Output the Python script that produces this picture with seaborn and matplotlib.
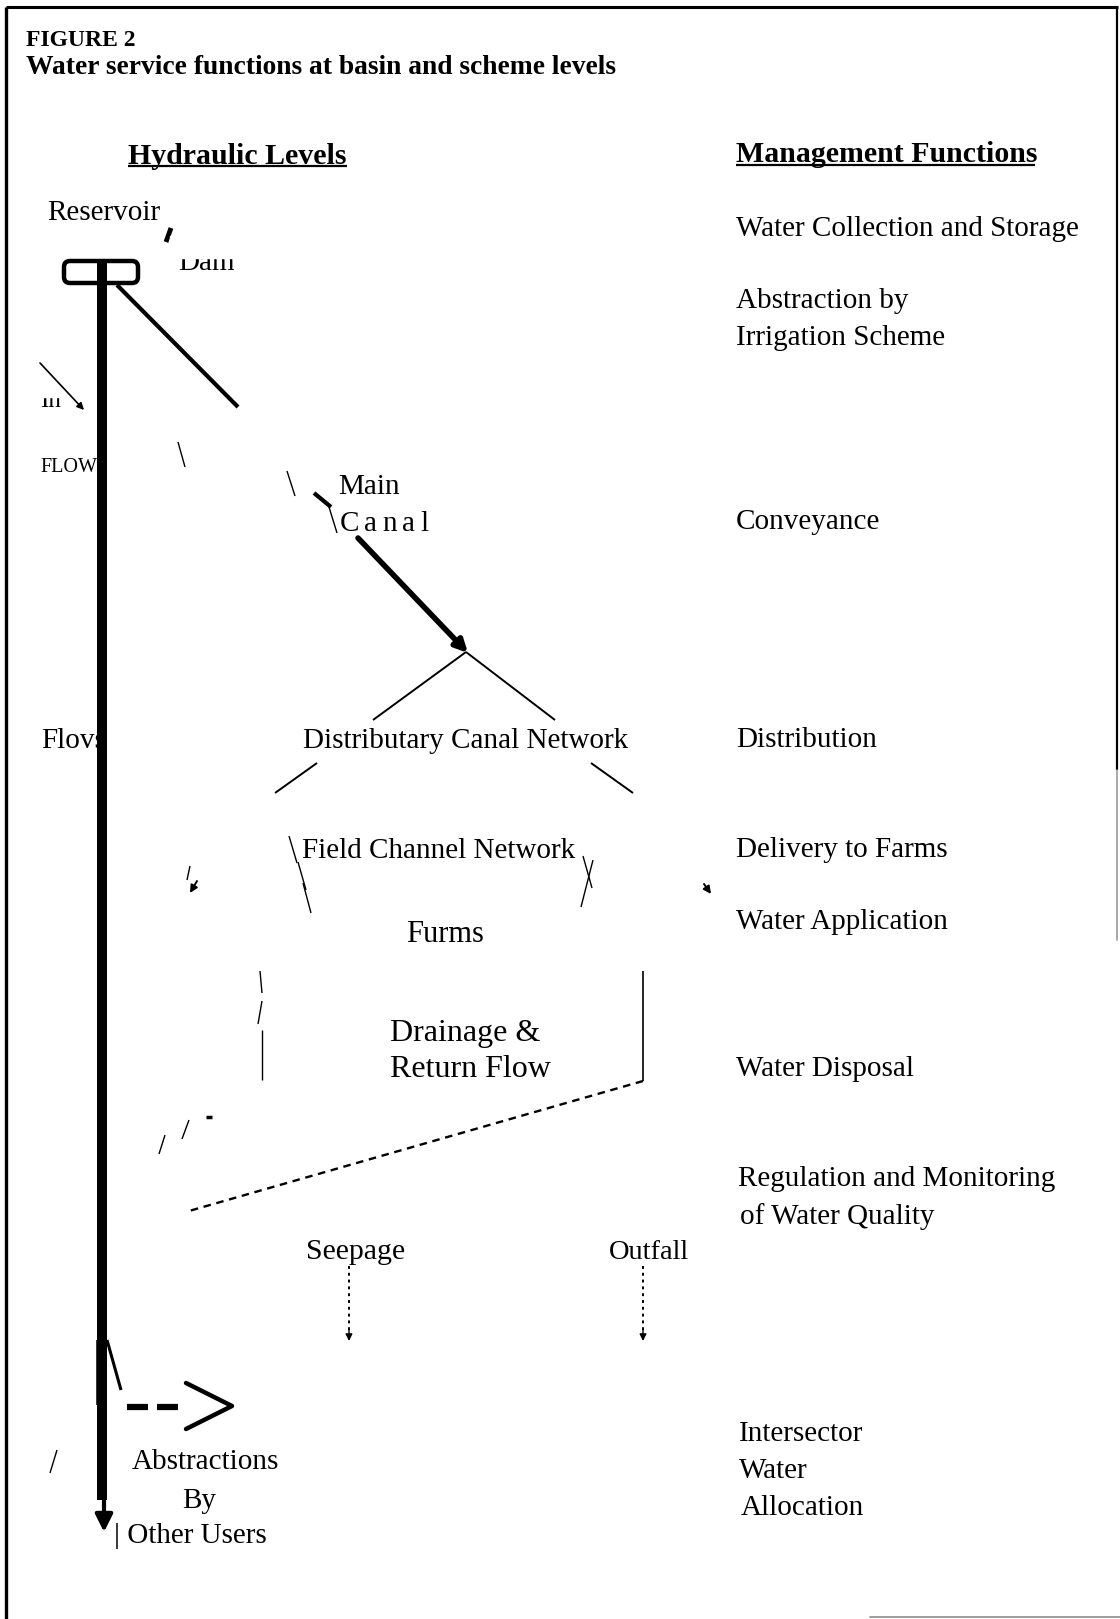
import matplotlib
matplotlib.use("Agg")
import matplotlib.pyplot as plt
import seaborn as sns
from matplotlib.patches import FancyBboxPatch

sns.set_theme(style="white")
plt.rcParams["font.family"] = ["Liberation Serif", "DejaVu Serif"]
plt.rcParams["text.color"] = "black"

W, H = 1120, 1619

# headings
title_lines = ["FIGURE 2", "Water service functions at basin and scheme levels"]
col_headers = ["Hydraulic Levels", "Management Functions"]

# management functions (right column), one entry per line of text
mgmt_labels = ["Water Collection and Storage", "Abstraction by", "Irrigation Scheme",
               "Conveyance", "Distribution", "Delivery to Farms", "Water Application",
               "Water Disposal", "Regulation and Monitoring", "of Water Quality",
               "Intersector", "Water", "Allocation"]
mgmt_x = [736, 736, 736, 736, 736, 736, 736, 736, 738, 740, 739, 739, 741]
mgmt_y = [225, 297, 334, 518, 736, 846, 918, 1065, 1175, 1213, 1430, 1467, 1504]

# hydraulic levels (left part of the scheme)
node_labels = ["Reservoir", "Main", "Distributary Canal Network", "Field Channel Network",
               "Furms", "Drainage &", "Return Flow", "Seepage", "Outfall",
               "Abstractions", "By", "| Other Users", "Flovs"]
node_x = [47, 338, 303, 302, 406, 390, 390, 306, 609, 132, 182, 114, 41]
node_y = [209, 483, 737, 847, 930, 1029, 1065, 1248, 1248, 1458, 1497, 1532, 737]
node_size = [21, 21, 21, 21, 22, 23, 23, 21.5, 20.5, 21, 21, 21, 21]

canal_letters = ["C", "a", "n", "a", "l"]
canal_x = [340, 364, 382, 402, 420]

DY = 4  # text boxes sit a little high with va="center"

fig = plt.figure(figsize=(W / 100, H / 100), dpi=100)
ax = fig.add_axes([0, 0, 1, 1])
ax.set_xlim(0, W)
ax.set_ylim(H, 0)
ax.axis("off")

k = "black"


def seg(x0, y0, x1, y1, lw=1.0, **kw):
    ax.plot([x0, x1], [y0, y1], color=k, lw=lw, solid_capstyle="butt", **kw)


def arrow(x0, y0, x1, y1, lw=1.0, ms=12, **kw):
    ax.annotate("", xy=(x1, y1), xytext=(x0, y0),
                arrowprops=dict(arrowstyle="-|>", color=k, lw=lw, mutation_scale=ms,
                                shrinkA=0, shrinkB=0, **kw))


# frame of the scanned page
seg(6, 7, 1118, 7, lw=2.2)
seg(6, 7, 6, H, lw=2.4)
seg(1117, 7, 1117, 770, lw=1.6)
ax.plot([1117, 1117], [770, 940], color="0.6", lw=1.2)
ax.plot([870, W], [1617, 1617], color="0.55", lw=1.2)

# titles
ax.text(26, 36 + DY, title_lines[0], fontsize=17, fontweight="bold", va="center", ha="left")
ax.text(26, 64 + DY, title_lines[1], fontsize=19.8, fontweight="bold", va="center", ha="left")

# column headers with underline
ax.text(128, 152 + DY, col_headers[0], fontsize=21.5, fontweight="bold", va="center", ha="left")
seg(128, 166, 347, 166, lw=1.6)
ax.text(736, 151 + DY, col_headers[1], fontsize=21.5, fontweight="bold", va="center", ha="left")
seg(736, 165, 1035, 165, lw=1.6)

for lab, x, y in zip(mgmt_labels, mgmt_x, mgmt_y):
    ax.text(x, y + DY, lab, fontsize=21, va="center", ha="left")

for lab, x, y, s in zip(node_labels, node_x, node_y, node_size):
    ax.text(x, y + DY, lab, fontsize=s, va="center", ha="left")

for ch, x in zip(canal_letters, canal_x):
    ax.text(x, 520 + DY, ch, fontsize=21, va="center", ha="left")

# Dam label, top of the letters cut off
ax.text(178, 270, "Dam", fontsize=21, va="baseline", ha="left", zorder=2)
ax.add_patch(plt.Rectangle((170, 236), 80, 22, color="white", zorder=3))
seg(171, 228, 166, 242, lw=3.5)
# "In" label, top cut off as well
ax.text(40, 407, "In", fontsize=18, va="baseline", ha="left", zorder=2)
ax.add_patch(plt.Rectangle((36, 380), 30, 17, color="white", zorder=3))
ax.text(40, 463 + DY, "FLOW", fontsize=14.5, va="center", ha="left")

# dam and the main river line
ax.add_patch(FancyBboxPatch((64, 261), 74, 22, boxstyle="round,pad=0,rounding_size=6",
                            fill=False, ec=k, lw=3.2, zorder=4))
seg(102, 262, 102, 1500, lw=7.2, zorder=4)
arrow(104, 1490, 104, 1532, lw=3, ms=26)
seg(99, 1340, 99, 1405, lw=4)
seg(107, 1340, 121, 1390, lw=2.2)

# inflow arrow
arrow(40, 363, 84, 410, lw=1.2, ms=10)

# abstraction from reservoir and main canal
seg(117, 285, 238, 407, lw=3)
seg(178, 442, 185, 467, lw=1)
seg(287, 471, 295, 496, lw=1)
seg(314, 493, 331, 507, lw=3)
seg(329, 507, 337, 533, lw=1)
arrow(358, 538, 468, 653, lw=4, ms=18)

# distributary branches
seg(466, 652, 373, 720, lw=1.4)
seg(466, 652, 555, 720, lw=1.4)
seg(317, 763, 275, 793, lw=1.4)
seg(591, 763, 633, 793, lw=1.4)

# field channel level
seg(289, 836, 297, 863, lw=1)
seg(298, 862, 306, 890, lw=1)
seg(303, 883, 311, 913, lw=1)
seg(583, 856, 592, 888, lw=1)
seg(593, 860, 581, 907, lw=1)
seg(190, 866, 187, 880, lw=1)
arrow(197, 881, 190, 893, lw=1.4, ms=11)
arrow(704, 884, 711, 894, lw=1.4, ms=11)

# drainage box
seg(260, 971, 262, 993, lw=1)
seg(262, 1001, 258, 1024, lw=1)
seg(262, 1030, 262, 1080, lw=1)
seg(643, 971, 643, 1081, lw=1.2)
ax.plot([643, 189], [1081, 1211], color=k, lw=1.7, dashes=(3.2, 2.4))
seg(165, 1135, 159, 1154, lw=1)
seg(189, 1120, 182, 1139, lw=1)
seg(206, 1117, 212, 1117, lw=2.5)

# seepage and outfall
for x in [349, 643]:
    ax.plot([x, x], [1266, 1333], color=k, lw=1.4, ls=(0, (1.5, 2)))
    arrow(x, 1328, x, 1341, lw=1, ms=10)

# abstraction by other users
seg(127, 1407, 148, 1407, lw=4.5)
seg(157, 1407, 178, 1407, lw=4.5)
ax.plot([186, 232, 186], [1383, 1406, 1429], color=k, lw=3.2)
seg(57, 1450, 50, 1473, lw=1)

fig.savefig("out.png", dpi=100, facecolor="white")
